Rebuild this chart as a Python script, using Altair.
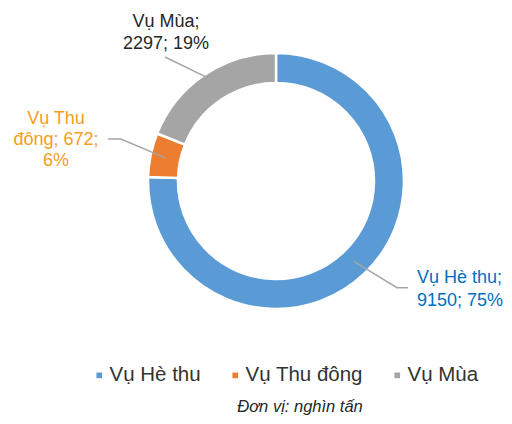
import math
import altair as alt
import pandas as pd

# ---- data ----
categories = ["Vụ Hè thu", "Vụ Thu đông", "Vụ Mùa"]
values = [9150, 672, 2297]
percents = [75, 6, 19]
slice_colors = ["#5B9BD5", "#ED7D31", "#A5A5A5"]
label_colors = ["#0070C0", "#F59D1E", "#262626"]
label_lines = [
    ["Vụ Hè thu;", "9150; 75%"],
    ["Vụ Thu", "đông; 672;", "6%"],
    ["Vụ Mùa;", "2297; 19%"],
]
footnote = "Đơn vị: nghìn tấn"

# ---- layout ----
W, H = 496, 408
CX, CY = 268, 173
R_OUT, R_IN = 128, 98
FONT = "Liberation Sans"
label_anchor = [(409, 270, "left"), (48, 111, "center"), (158, 14, "center")]
line_gap = [23, 21, 22]
leader_elbows = [[(389, 279.7), (400, 279.7)], [(113, 131), (100, 131)], [(157, 49)]]
leader_r = [112, 113, 126]

xs = alt.Scale(domain=[0, W], range=[0, W], nice=False, zero=False)
ys = alt.Scale(domain=[0, H], range=[0, H], nice=False, zero=False)

df = pd.DataFrame({"cat": categories, "val": values, "ord": range(len(values))})

arc = alt.Chart(df).mark_arc(
    innerRadius=R_IN, outerRadius=R_OUT, stroke="white", strokeWidth=2.5
).encode(
    theta=alt.Theta("val:Q", stack=True),
    color=alt.Color(
        "cat:N",
        scale=alt.Scale(domain=categories, range=slice_colors),
        sort=categories,
        legend=alt.Legend(
            title=None, orient="none", direction="horizontal",
            legendX=81, legendY=357, padding=0,
            symbolType="square", symbolSize=32, symbolStrokeWidth=0,
            labelFontSize=20.5, labelFont=FONT, labelColor="#333333",
            columnPadding=24, labelOffset=0,
        ),
    ),
    order=alt.Order("ord:Q"),
    x=alt.value(CX),
    y=alt.value(CY),
)

# leader lines: start at slice mid-angle, then through elbows
total = sum(values)
rows = []
cum = 0
for k, v in enumerate(values):
    mid = (cum + v / 2) / total * 2 * math.pi
    cum += v
    pts = [(CX + leader_r[k] * math.sin(mid), CY - leader_r[k] * math.cos(mid))] + leader_elbows[k]
    for i, (px, py) in enumerate(pts):
        rows.append({"g": k, "i": i, "px": px, "py": py})
ldf = pd.DataFrame(rows)
leaders = alt.Chart(ldf).mark_line(color="#A6A6A6", strokeWidth=1.5).encode(
    x=alt.X("px:Q", scale=xs, axis=None),
    y=alt.Y("py:Q", scale=ys, axis=None),
    detail="g:N",
    order=alt.Order("i:Q"),
)

layers = [arc, leaders]
for k in range(len(categories)):
    ax, ay, al = label_anchor[k]
    tdf = pd.DataFrame({
        "t": label_lines[k],
        "px": [ax] * len(label_lines[k]),
        "py": [ay + j * line_gap[k] for j in range(len(label_lines[k]))],
    })
    layers.append(
        alt.Chart(tdf).mark_text(
            font=FONT, fontSize=18, color=label_colors[k], align=al, baseline="middle"
        ).encode(
            x=alt.X("px:Q", scale=xs, axis=None),
            y=alt.Y("py:Q", scale=ys, axis=None),
            text="t:N",
        )
    )

note = alt.Chart(pd.DataFrame({"t": [footnote]})).mark_text(
    font=FONT, fontSize=16.5, fontStyle="italic", color="#262626", align="center", baseline="alphabetic"
).encode(x=alt.value(292), y=alt.value(404), text="t:N")
layers.append(note)

chart = alt.layer(*layers).properties(
    width=W, height=H, padding=0, autosize=alt.AutoSizeParams(type="none")
).configure_view(stroke=None)

chart.save("out.html", embed_options={"renderer": "svg", "actions": False})
